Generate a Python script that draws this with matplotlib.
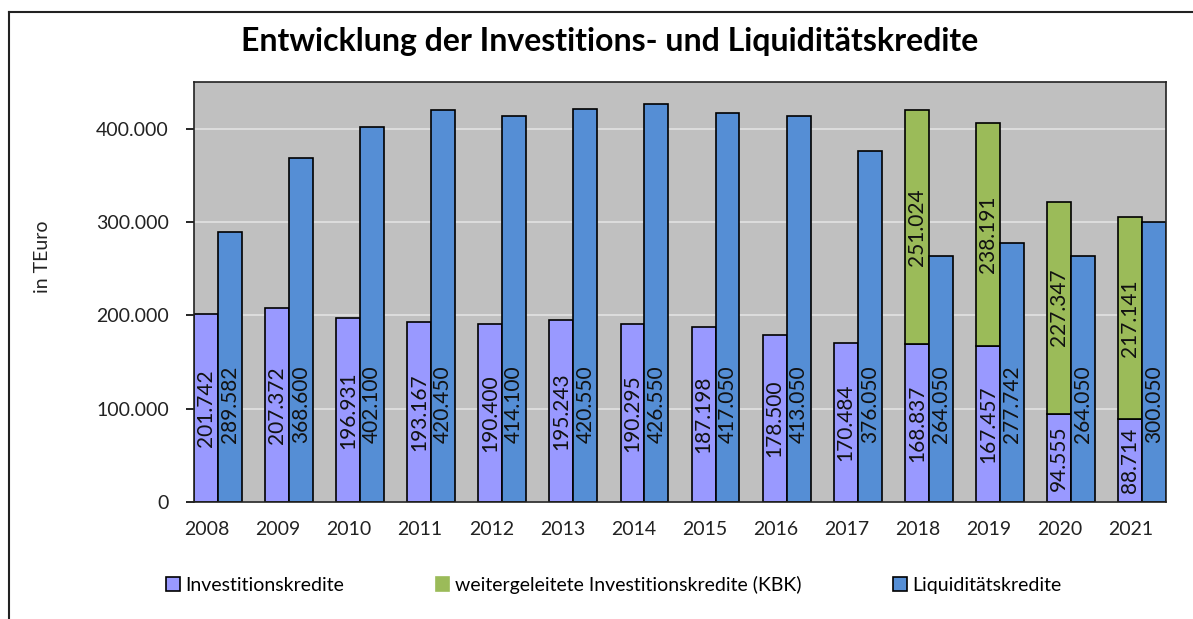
import numpy as np
import matplotlib.pyplot as plt
from matplotlib.patches import Patch
from matplotlib.lines import Line2D

plt.rcParams['font.family'] = ['Lato', 'DejaVu Sans']

years = ['2008', '2009', '2010', '2011', '2012', '2013', '2014',
         '2015', '2016', '2017', '2018', '2019', '2020', '2021']
investition = [201742, 207372, 196931, 193167, 190400, 195243, 190295,
               187198, 178500, 170484, 168837, 167457, 94555, 88714]
weitergeleitet = [0, 0, 0, 0, 0, 0, 0, 0, 0, 0, 251024, 238191, 227347, 217141]
liquiditaet = [289582, 368600, 402100, 420450, 414100, 420550, 426550,
               417050, 413050, 376050, 264050, 277742, 264050, 300050]

def fmt(v):
    return f"{v:,}".replace(",", ".")

c_inv = '#9999ff'
c_kbk = '#9bbb59'
c_liq = '#558ed5'

fig = plt.figure(figsize=(11.93, 6.19), dpi=100)
ax = fig.add_axes([194 / 1193, 1 - 502 / 619, 972 / 1193, 420 / 619])
ax.set_facecolor('#c0c0c0')

x = np.arange(len(years))
w = 0.337
inv = np.array(investition)
kbk = np.array(weitergeleitet)
liq = np.array(liquiditaet)

ax.bar(x - w / 2, inv, w, color=c_inv, edgecolor='black', linewidth=1.2, zorder=2)
mask = kbk > 0
ax.bar(x[mask] - w / 2, kbk[mask], w, bottom=inv[mask], color=c_kbk,
       edgecolor='black', linewidth=1.2, zorder=2)
ax.bar(x + w / 2, liq, w, color=c_liq, edgecolor='black', linewidth=1.2, zorder=2)

fs = 14
lfs = 15
for i in range(len(years)):
    ax.text(x[i] - w / 2, inv[i] / 2, fmt(inv[i]), rotation=90, ha='center',
            va='center', fontsize=lfs, color='#111111', zorder=3)
    if kbk[i] > 0:
        ax.text(x[i] - w / 2, inv[i] + kbk[i] / 2, fmt(kbk[i]), rotation=90,
                ha='center', va='center', fontsize=lfs, color='#111111', zorder=3)
    ax.text(x[i] + w / 2, 105000, fmt(liq[i]), rotation=90, ha='center',
            va='center', fontsize=lfs, color='#111111', zorder=3)

ax.set_xlim(-w, len(years) - 1 + w)
ax.set_ylim(0, 450000)
ax.set_yticks([0, 100000, 200000, 300000, 400000])
ax.set_yticklabels([fmt(v) for v in [0, 100000, 200000, 300000, 400000]],
                   fontsize=fs, color='#222222')
ax.set_xticks(x - 0.155)
ax.set_xticklabels(years, fontsize=fs, color='#222222')
ax.tick_params(axis='x', length=0, pad=14)
ax.tick_params(axis='y', length=6, width=1.2, pad=12)
ax.grid(axis='y', color='#e2e2e2', linewidth=1.2, zorder=1)
ax.set_axisbelow(True)
for s in ax.spines.values():
    s.set_linewidth(1.2)
    s.set_color('#222222')

fig.text(42 / 1193, 1 - 257 / 619, 'in TEuro', rotation=90, ha='center',
         va='center', fontsize=fs, color='#222222')
fig.text(610 / 1193, 1 - 42 / 619, 'Entwicklung der Investitions- und Liquiditätskredite',
         ha='center', va='center', fontsize=23, fontweight='bold')

handles = [Patch(facecolor=c_inv, edgecolor='black', linewidth=1.2),
           Patch(facecolor=c_kbk, edgecolor=c_kbk, linewidth=1.2),
           Patch(facecolor=c_liq, edgecolor='black', linewidth=1.2)]
labels = ['Investitionskredite', 'weitergeleitete Investitionskredite (KBK)',
          'Liquiditätskredite']
fig.legend(handles, labels, loc='center', bbox_to_anchor=(614 / 1193, 1 - 585 / 619),
           ncol=3, frameon=False, fontsize=fs, handlelength=0.7, handleheight=0.7,
           handletextpad=0.3, columnspacing=4.7)

# outer frame (left and top only visible)
fig.add_artist(Line2D([9 / 1193, 9 / 1193], [0, 1 - 12 / 619], color='#222222',
                      linewidth=1.5, transform=fig.transFigure))
fig.add_artist(Line2D([9 / 1193, 1], [1 - 12 / 619, 1 - 12 / 619], color='#222222',
                      linewidth=1.5, transform=fig.transFigure))

fig.savefig('out.png', dpi=100)
